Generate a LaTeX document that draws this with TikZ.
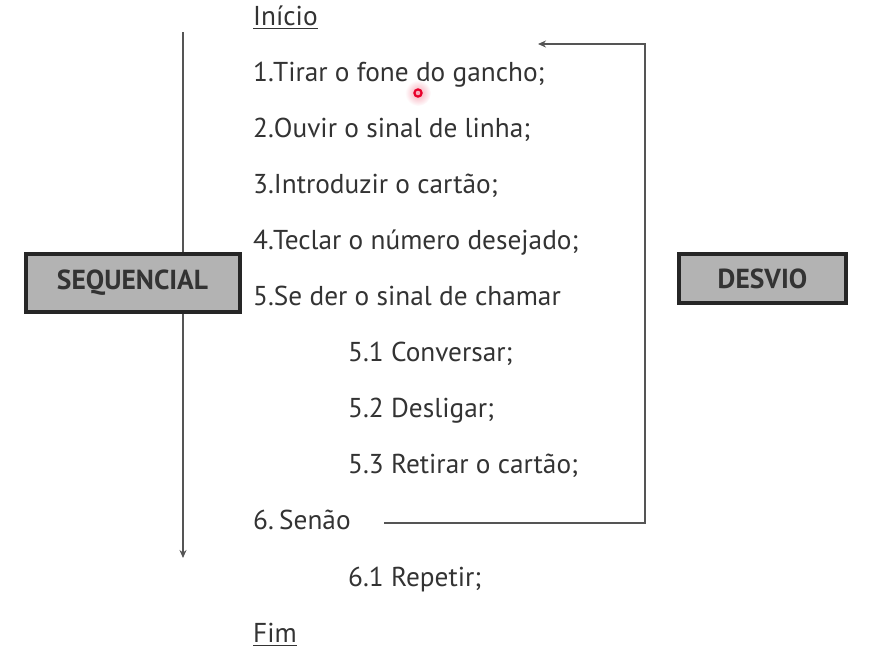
\documentclass[tikz,border=0pt]{standalone}
\usepackage{fontspec}
\setmainfont{PT Sans}
\usetikzlibrary{arrows.meta}
\definecolor{txt}{HTML}{333333}
\definecolor{ln}{HTML}{555555}
\definecolor{boxfill}{HTML}{B3B3B3}
\definecolor{cur}{HTML}{E8002A}
\begin{document}
\begin{tikzpicture}[x=1pt,y=-1pt,
  item/.style={anchor=base west, inner sep=0pt, text=txt, font=\fontsize{27.3}{27}\selectfont},
  labelbox/.style={draw=black!85, line width=4pt, fill=boxfill, text=txt, inner sep=0pt,
     font=\fontsize{27.5}{27}\selectfont\bfseries},
  conn/.style={draw=ln, line width=1.2pt},
  uline/.style={draw=txt, line width=1.3pt},
  tip/.style={-{Stealth[length=8pt,width=7pt]}}]
\useasboundingbox (0,0) rectangle (873,657);
% sequential arrow
\coordinate (vtop) at (183,32);
\coordinate (vbot) at (183,558);
\draw[conn,tip] (vtop) -- (vbot);
\node[labelbox, minimum width=214pt, minimum height=58pt] (seq) at (132.5,282.5) {SEQUENCIAL};
\node[labelbox, minimum width=167pt, minimum height=49pt] (desvio) at (762.5,278.5) {DESVIO};
% texts
\node[item] (ini) at (253,25) {Início};
\node[item] (l1) at (253,81.1) {1.Tirar o fone do gancho;};
\node[item] (l2) at (253,137.2) {2.Ouvir o sinal de linha;};
\node[item] (l3) at (253,193.3) {3.Introduzir o cartão;};
\node[item] (l4) at (253,249.4) {4.Teclar o número desejado;};
\node[item] (l5) at (253,305.5) {5.Se der o sinal de chamar};
\node[item] (l51) at (348,361.6) {5.1 Conversar;};
\node[item] (l52) at (348,417.7) {5.2 Desligar;};
\node[item] (l53) at (348,473.8) {5.3 Retirar o cartão;};
\node[item] (l6) at (253,529.9) {6.\kern-2pt\ Senão};
\node[item] (l61) at (348,586) {6.1 Repetir;};
\node[item] (fim) at (253,642) {Fim};
% underlines
\draw[uline] ([yshift=-3.5pt]ini.base west) -- ([yshift=-3.5pt]ini.base east);
\draw[uline] ([yshift=-3.5pt]fim.base west) -- ([yshift=-3.5pt]fim.base east);
% loop connector
\coordinate (ls) at (384,523);
\coordinate (lc) at (645,44);
\coordinate (le) at (538,44);
\draw[conn,tip] (ls) -| (lc) -- (le);
% cursor marker
\shade[inner color=cur!35, outer color=white, draw=none] (418,93) circle (13pt);
\draw[cur, line width=2.2pt] (418,93) circle (3.6pt);
\end{tikzpicture}
\end{document}
